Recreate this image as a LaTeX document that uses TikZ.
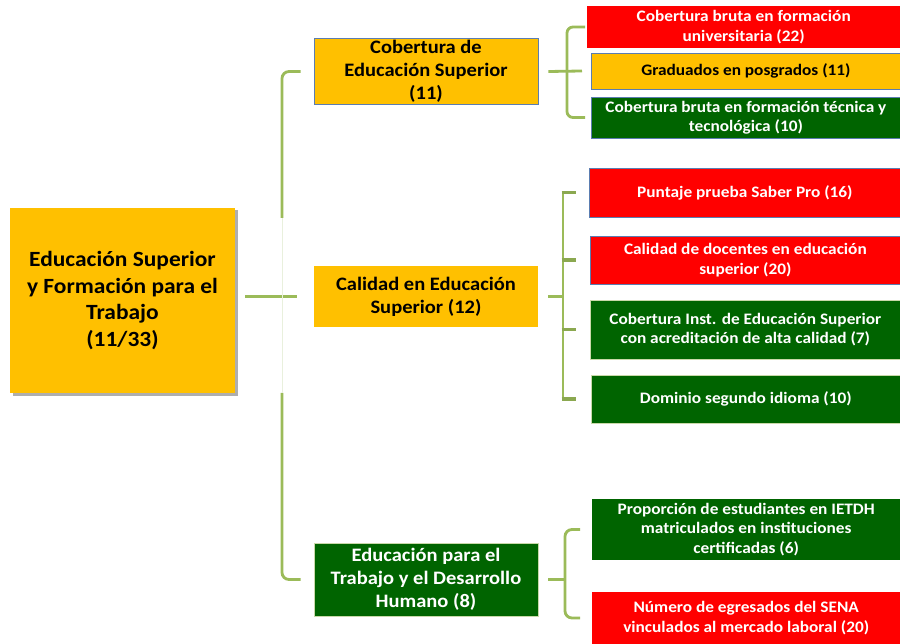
\documentclass[tikz,border=0pt]{standalone}
\usepackage{fontspec}
\setmainfont{Carlito}[FakeStretch=1.08]
\usetikzlibrary{positioning,shadows}
\definecolor{Amber}{HTML}{FFC000}
\definecolor{Rojo}{HTML}{FF0000}
\definecolor{Verde}{HTML}{006400}
\definecolor{Olive}{HTML}{9BBB59}
\definecolor{Edge}{HTML}{5B7DB1}
\definecolor{Pale}{HTML}{C9D9A9}
\tikzset{
  box/.style={align=center, inner sep=2pt, font=\bfseries},
  rootbox/.style={box, fill=Amber, minimum width=225pt, minimum height=185pt,
              font=\bfseries\fontsize{21.7}{26.5}\selectfont,
              drop shadow={shadow xshift=2.5pt, shadow yshift=-2.5pt, opacity=.45, fill=black!70}},
  mid/.style={box, minimum width=224pt, font=\bfseries\fontsize{19}{23}\selectfont},
  midamber/.style={mid, fill=Amber},
  midgreen/.style={mid, fill=Verde, draw=Pale, line width=.6pt, text=white},
  leaf/.style={box, anchor=west, font=\bfseries\fontsize{16}{19.5}\selectfont},
  leafred/.style={leaf, fill=Rojo, text=white},
  leafamber/.style={leaf, fill=Amber, draw=Edge, line width=.8pt},
  leafgreen/.style={leaf, fill=Verde, text=white},
  brace/.style={draw=Olive, line width=2.8pt},
  stub/.style={draw=Olive!90!black, line width=3.5pt},
}
\begin{document}
\begin{tikzpicture}[x=1pt, y=-1pt]
  \useasboundingbox (0,0) rectangle (900,644);
  % root
  \node[rootbox] (root) at (122.5,300.5) {Educación Superior\\y Formación para el\\Trabajo\\(11/33)};
  % middle level
  \node[midamber, draw=Edge, line width=.8pt, minimum height=65pt] (cob) at (426,71.5) {Cobertura de\\Educación Superior\\(11)};
  \node[midamber, minimum height=61pt] (cal) at (426,296.5) {Calidad en Educación\\Superior (12)};
  \node[midgreen, minimum height=73pt] (edu) at (426,579.5) {Educación para el\\Trabajo y el Desarrollo\\Humano (8)};
  % indicators
  \node[leafred, minimum width=313pt, minimum height=42pt] (l1) at (587,27) {Cobertura bruta en formación\\universitaria (22)};
  \node[leafamber, minimum width=309pt, minimum height=36pt] (l2) at (591,71) {Graduados en posgrados (11)};
  \node[leafgreen, draw=Edge, line width=.8pt, minimum width=309pt, minimum height=41pt] (l3) at (591,117.5) {Cobertura bruta en formación técnica y\\tecnológica (10)};
  \node[leafred, draw=Edge, line width=.8pt, minimum width=311pt, minimum height=49pt] (l4) at (589,192.5) {Puntaje prueba Saber Pro (16)};
  \node[leafred, draw=Edge, line width=.8pt, minimum width=310pt, minimum height=48pt] (l5) at (590,260) {Calidad de docentes en educación\\superior (20)};
  \node[leafgreen, draw=Pale, line width=.6pt, minimum width=310pt, minimum height=59pt] (l6) at (590,329.5) {Cobertura Inst. de Educación Superior\\con acreditación de alta calidad (7)};
  \node[leafgreen, draw=Pale, line width=.6pt, minimum width=309pt, minimum height=48pt] (l7) at (591,399) {Dominio segundo idioma (10)};
  \node[leafgreen, minimum width=308pt, minimum height=61pt] (l8) at (592,529.5) {Proporción de estudiantes en IETDH\\matriculados en instituciones\\certificadas (6)};
  \node[leafred, minimum width=308pt, minimum height=52pt] (l9) at (592,618) {Número de egresados del SENA\\vinculados al mercado laboral (20)};
  % spines
  \coordinate (b1) at (567,0);
  \coordinate (b2) at (563,0);
  \coordinate (b3) at (565,0);
  \coordinate (g1) at (282,218);
  \coordinate (g2) at (282,393);
  % main bracket
  \draw[brace] ([xshift=10pt]root.east |- cal.west) -- ([xshift=-17pt]cal.west);
  \draw[brace, rounded corners=7pt] ([xshift=-13pt]cob.west) -| (g1);
  \draw[brace, rounded corners=7pt] (g2) |- ([xshift=-13pt]edu.west);
  \draw[Pale!40, line width=1pt] (g1) -- (g2);
  % first group
  \draw[brace] ([xshift=10pt]cob.east) -- ([xshift=-9pt]l2.west);
  \draw[brace, rounded corners=6pt] ([xshift=-2pt]l1.west) -| (b1 |- l3.west) -- ([xshift=-6pt]l3.west);
  % second group
  \draw[brace] ([xshift=10pt]cal.east) -- (b2 |- cal.east);
  \draw[brace] (b2 |- l4.west) -- (b2 |- l7.west);
  \foreach \n in {l4,l5,l6,l7}
    \draw[stub] ([xshift=-1.4pt]b2 |- \n.west) -- ++(14,0);
  % third group
  \draw[brace] ([xshift=10pt]edu.east) -- (b3 |- edu.east);
  \draw[brace, rounded corners=7pt] ([xshift=-12pt]l8.west) -| (b3 |- l9.west) -- ([xshift=-12pt]l9.west);
\end{tikzpicture}
\end{document}
